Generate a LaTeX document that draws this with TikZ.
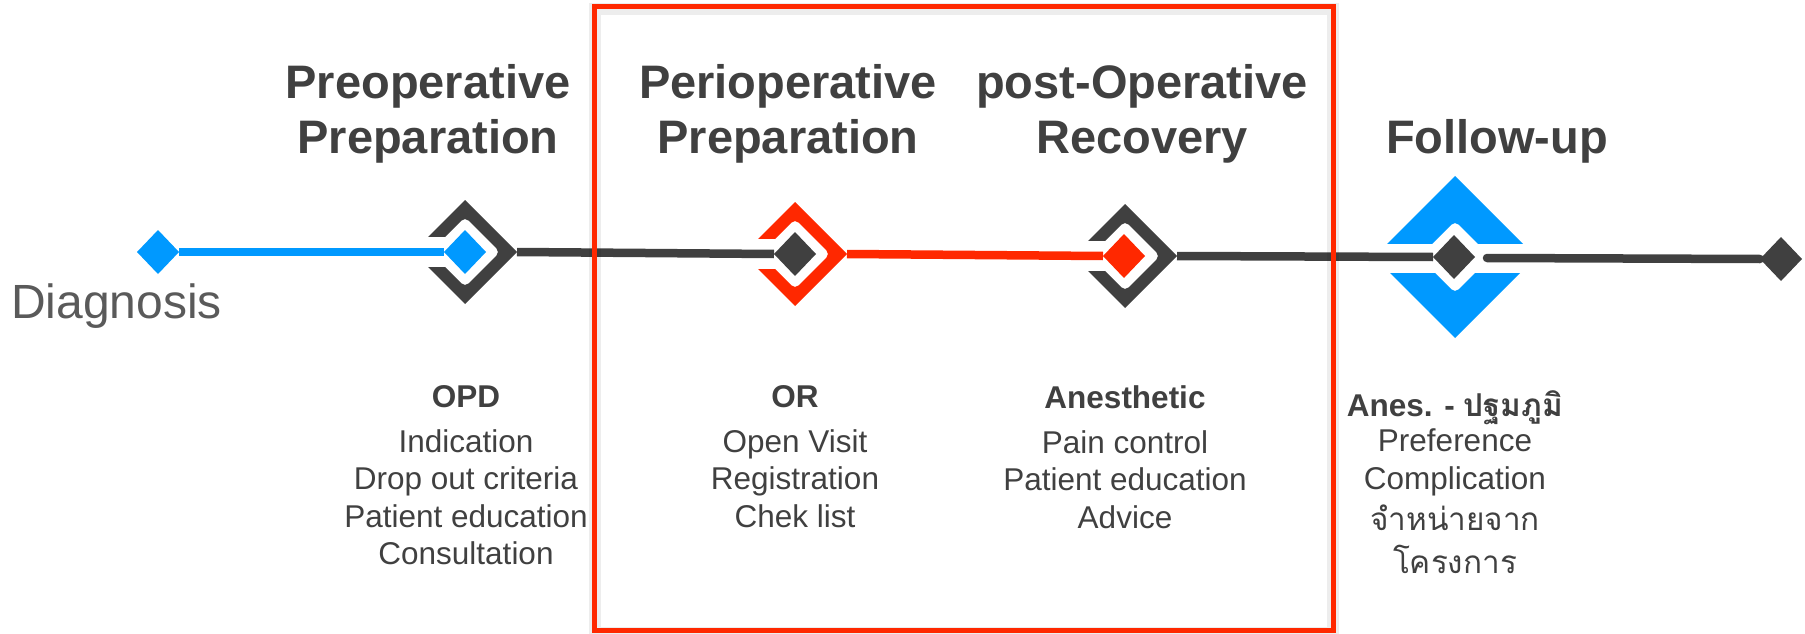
\documentclass[tikz,border=0pt]{standalone}
\usepackage{fontspec}
\setmainfont{Liberation Sans}
\newfontfamily\thaifont[Script=Thai]{Loma}
\usetikzlibrary{shapes.geometric}

\definecolor{ink}{HTML}{404040}
\definecolor{greytext}{HTML}{5A5A5A}
\definecolor{sky}{HTML}{0099FF}
\definecolor{flame}{HTML}{FF2800}

\tikzstyle{gem} = [diamond, inner sep=0pt, outer sep=0pt, minimum width=42pt, minimum height=44pt]
\tikzstyle{wire} = [line width=8.5pt]
\tikzstyle{phase} = [anchor=north, inner sep=0pt, align=center, text=ink, font=\fontsize{47}{55}\selectfont\bfseries]
\tikzstyle{duty} = [anchor=north, inner sep=0pt, align=center, text=ink, font=\fontsize{31.5}{37.5}\selectfont]

% open diamond bracket round a stage marker, right tip kept as coordinate #1
\newcommand{\ringmark}[4]{%
  \begin{scope}[shift={(#2pt,#3pt)}]
    \fill[#4, even odd rule] (-52pt,0pt) -- (0pt,-52pt) -- (52pt,0pt) -- (0pt,52pt) -- cycle
      [rounded corners=5pt] (-35pt,0pt) -- (0pt,-35pt) -- (35pt,0pt) -- (0pt,35pt) -- cycle;
    \fill[white] (-60pt,-15pt) rectangle (-10pt,15pt);
    \coordinate (#1) at (52pt,0pt);
  \end{scope}}

\begin{document}
\begin{tikzpicture}[yscale=-1]
			\useasboundingbox (0pt,0pt) rectangle (1805pt,634pt);
			% brackets
			\ringmark{preopring}{465}{252}{ink}
			\ringmark{perioring}{795}{254}{flame}
			\ringmark{postring}{1125}{256}{ink}
			% split diamond of the follow-up stage
			\begin{scope}[shift={(1455pt,257pt)}]
				\fill[sky, even odd rule] (-81pt,0pt) -- (0pt,-81pt) -- (81pt,0pt) -- (0pt,81pt) -- cycle
					[rounded corners=5pt] (-36pt,0pt) -- (0pt,-36pt) -- (36pt,0pt) -- (0pt,36pt) -- cycle;
				\fill[white] (-90pt,-13pt) rectangle (90pt,16pt);
			\end{scope}
			\coordinate (fugap) at (1487pt,258pt);
			% stage markers
			\node[gem, fill=sky] (diag) at (158pt,252pt) {};
			\node[gem, fill=sky] (preop) at (465pt,252pt) {};
			\node[gem, fill=ink] (perio) at (795pt,254pt) {};
			\node[gem, fill=flame] (postop) at (1124pt,256pt) {};
			\node[gem, fill=ink] (follow) at (1454pt,257pt) {};
			\node[gem, fill=ink] (last) at (1781pt,259pt) {};
			% time line
			\draw[wire, sky] (diag.east) -- (preop.west);
			\draw[wire, ink] (preopring) -- (perio.west);
			\draw[wire, flame] (perioring) -- (postop.west);
			\draw[wire, ink] (postring) -- (follow.west);
			\draw[wire, ink, line cap=round] (fugap) -- (last.west);
			% titles
			\node[phase] (pretitle) at (428pt,64pt) {Preoperative\\Preparation};
			\node[phase] (periotitle) at (788pt,64pt) {Perioperative\\Preparation};
			\node[phase] (posttitle) at (1142pt,64pt) {post-Operative\\Recovery};
			\node[phase] (futitle) at (1497pt,119pt) {Follow-up};
			\node[anchor=base west, inner sep=0pt, text=greytext, font=\fontsize{48}{56}\selectfont] (diagtext) at (11pt,318pt) {Diagnosis};
			% who does what
			\node[duty] (opd) at (466pt,385pt) {\textbf{OPD}\\[7.5pt]Indication\\Drop out criteria\\Patient education\\Consultation};
			\node[duty] (ortext) at (795pt,385pt) {\textbf{OR}\\[7.5pt]Open Visit\\Registration\\Chek list};
			\node[duty] (anes) at (1125pt,385pt) {\textbf{Anesthetic}\\[7.5pt]Pain control\\Patient education\\Advice};
			\node[duty] (futext) at (1455pt,390pt) {\textbf{Anes. - {\thaifont ปฐมภูมิ}}\\[-2pt]Preference\\Complication\\[4pt]{\thaifont จำหน่ายจาก}\\[5pt]{\thaifont โครงการ}};
			% frame round the hospital stay
			\draw[black, opacity=0.07, line width=12pt] (594.5pt,9.5pt) rectangle (1333pt,633pt);
			\draw[flame, line width=5pt] (594.5pt,6.5pt) rectangle (1333pt,630pt);
		\end{tikzpicture}
\end{document}
